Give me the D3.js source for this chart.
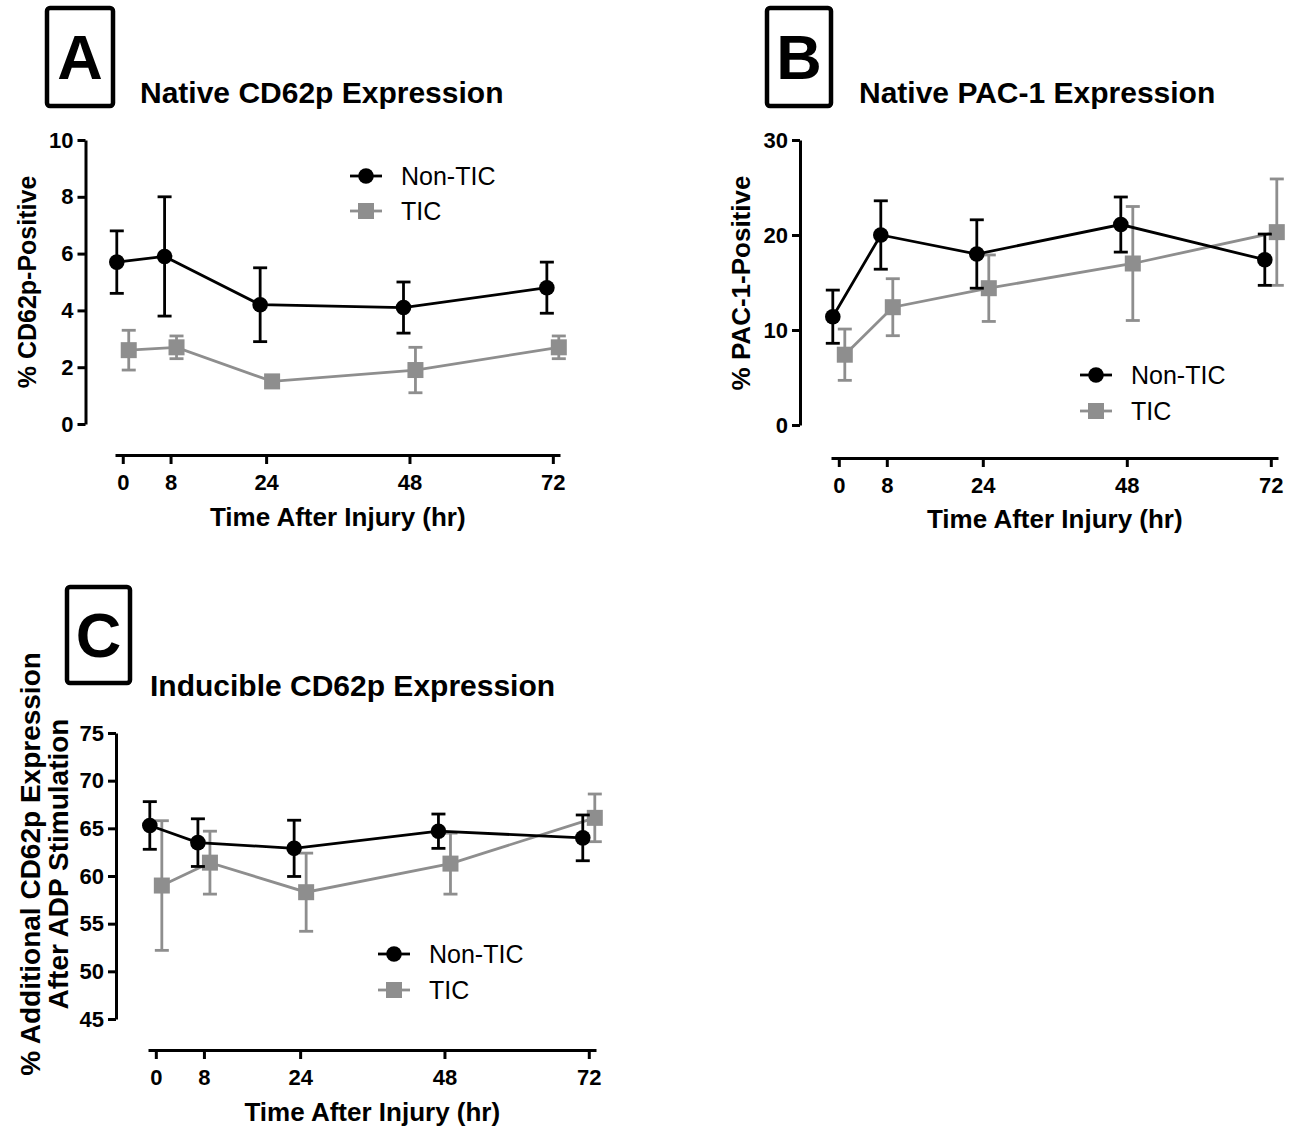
<!DOCTYPE html>
<html>
<head>
<meta charset="utf-8">
<script src="https://cdn.jsdelivr.net/npm/d3@7"></script>
<style>
  html, body { margin: 0; padding: 0; background: #fff; }
  svg { display: block; font-family: "Liberation Sans", Arial, Helvetica, sans-serif; }
</style>
</head>
<body>
<svg id="chart" width="1298" height="1126"></svg>
<script>
// ---------------- DATA ----------------
const hours = [0, 8, 24, 48, 72];
const xTickLabels = ["0", "8", "24", "48", "72"];
const seriesNames = ["Non-TIC", "TIC"];
const xAxisTitle = "Time After Injury (hr)";

// Panel A: Native CD62p Expression
const aNonTicMean = [5.7, 5.9, 4.2, 4.1, 4.8];
const aNonTicErr  = [1.1, 2.1, 1.3, 0.9, 0.9];
const aTicMean    = [2.6, 2.7, 1.5, 1.9, 2.7];
const aTicErr     = [0.7, 0.4, 0.2, 0.8, 0.4];
const aYTicks     = [0, 2, 4, 6, 8, 10];

// Panel B: Native PAC-1 Expression
const bNonTicMean = [11.4, 20.0, 18.0, 21.1, 17.4];
const bNonTicErr  = [2.8, 3.6, 3.6, 2.9, 2.7];
const bTicMean    = [7.4, 12.4, 14.4, 17.0, 20.3];
const bTicErr     = [2.7, 3.0, 3.5, 6.0, 5.6];
const bYTicks     = [0, 10, 20, 30];

// Panel C: Inducible CD62p Expression
const cNonTicMean = [65.3, 63.5, 62.9, 64.7, 64.0];
const cNonTicErr  = [2.5, 2.5, 2.95, 1.8, 2.4];
const cTicMean    = [59.0, 61.4, 58.3, 61.3, 66.1];
const cTicErr     = [6.8, 3.3, 4.1, 3.2, 2.5];
const cYTicks     = [45, 50, 55, 60, 65, 70, 75];

// ---------------- STYLE ----------------
const BLACK = "#000";
const GRAY = "#8e8e8e";
const NUDGE = 1.0; // horizontal offset (hr) between the two groups

const svg = d3.select("#chart");

function panel(cfg) {
  const g = svg.append("g");

  // label box
  g.append("rect")
    .attr("x", cfg.box[0]).attr("y", cfg.box[1])
    .attr("width", cfg.box[2]).attr("height", cfg.box[3])
    .attr("rx", 3).attr("fill", "none")
    .attr("stroke", "#000").attr("stroke-width", 4.5);
  g.append("text")
    .attr("x", cfg.box[0] + cfg.box[2] / 2)
    .attr("y", cfg.letterY)
    .attr("text-anchor", "middle")
    .attr("font-size", 63).attr("font-weight", "bold")
    .text(cfg.letter);

  // title
  g.append("text")
    .attr("x", cfg.titleX).attr("y", cfg.titleY)
    .attr("font-size", 30).attr("font-weight", "bold")
    .text(cfg.title);

  const x = d3.scaleLinear().domain([-1.3, 73.2]).range(cfg.xRange);
  const y = d3.scaleLinear().domain(cfg.yDomain).range(cfg.yRange);

  // y axis
  const yAx = g.append("g")
    .attr("transform", `translate(${cfg.yAxisX},0)`)
    .call(d3.axisLeft(y).tickValues(cfg.yTicks).tickSize(8).tickSizeOuter(0).tickPadding(4));
  yAx.select(".domain").attr("stroke-width", 3);
  yAx.selectAll(".tick line").attr("stroke-width", 3);
  yAx.selectAll(".tick text").attr("font-size", 22).attr("font-weight", "bold")
     .attr("font-family", "Liberation Sans, Arial, sans-serif").attr("fill", "#000");

  // x axis
  const xAx = g.append("g")
    .attr("transform", `translate(0,${cfg.xAxisY})`)
    .call(d3.axisBottom(x).tickValues(hours).tickFormat((d, i) => xTickLabels[i])
      .tickSize(9).tickSizeOuter(0).tickPadding(10));
  xAx.select(".domain").attr("stroke-width", 3);
  xAx.selectAll(".tick line").attr("stroke-width", 3);
  xAx.selectAll(".tick text").attr("font-size", 22).attr("font-weight", "bold")
     .attr("font-family", "Liberation Sans, Arial, sans-serif").attr("fill", "#000");

  // axis titles
  const xMid = (x(0) + x(72)) / 2;
  g.append("text")
    .attr("x", xMid).attr("y", cfg.xTitleY)
    .attr("text-anchor", "middle")
    .attr("font-size", 26).attr("font-weight", "bold")
    .text(xAxisTitle);

  cfg.yTitle.forEach((line, i) => {
    g.append("text")
      .attr("transform", `translate(${cfg.yTitleX[i]},${cfg.yTitleCY}) rotate(-90)`)
      .attr("text-anchor", "middle")
      .attr("dy", "0.35em")
      .attr("font-size", cfg.yTitleSize).attr("font-weight", "bold")
      .text(line);
  });

  // series
  const series = [
    { name: seriesNames[1], mean: cfg.ticMean, err: cfg.ticErr, color: GRAY, shape: "square", dx: NUDGE },
    { name: seriesNames[0], mean: cfg.nonMean, err: cfg.nonErr, color: BLACK, shape: "circle", dx: -NUDGE }
  ];

  series.forEach(s => {
    const pts = hours.map((h, i) => ({ h: h + s.dx, v: s.mean[i], e: s.err[i] }));
    const sg = g.append("g");
    // error bars
    pts.forEach(p => {
      const px = x(p.h);
      sg.append("line").attr("x1", px).attr("x2", px)
        .attr("y1", y(p.v - p.e)).attr("y2", y(p.v + p.e))
        .attr("stroke", s.color).attr("stroke-width", 2.8);
      [p.v - p.e, p.v + p.e].forEach(v => {
        sg.append("line").attr("x1", px - 7).attr("x2", px + 7)
          .attr("y1", y(v)).attr("y2", y(v))
          .attr("stroke", s.color).attr("stroke-width", 2.8);
      });
    });
    // connecting line
    sg.append("path")
      .datum(pts)
      .attr("fill", "none").attr("stroke", s.color).attr("stroke-width", 2.8)
      .attr("d", d3.line().x(p => x(p.h)).y(p => y(p.v)));
    // markers
    pts.forEach(p => {
      if (s.shape === "circle") {
        sg.append("circle").attr("cx", x(p.h)).attr("cy", y(p.v)).attr("r", 7.8).attr("fill", s.color);
      } else {
        sg.append("rect").attr("x", x(p.h) - 8).attr("y", y(p.v) - 8)
          .attr("width", 16).attr("height", 16).attr("fill", s.color);
      }
    });
  });

  // legend
  const leg = [
    { name: seriesNames[0], color: BLACK, shape: "circle", y: cfg.legY[0] },
    { name: seriesNames[1], color: GRAY, shape: "square", y: cfg.legY[1] }
  ];
  leg.forEach(l => {
    g.append("line")
      .attr("x1", cfg.legX).attr("x2", cfg.legX + 32)
      .attr("y1", l.y).attr("y2", l.y)
      .attr("stroke", l.color).attr("stroke-width", 2.8);
    const mx = cfg.legX + 16;
    if (l.shape === "circle") {
      g.append("circle").attr("cx", mx).attr("cy", l.y).attr("r", 7.8).attr("fill", l.color);
    } else {
      g.append("rect").attr("x", mx - 8).attr("y", l.y - 8).attr("width", 16).attr("height", 16).attr("fill", l.color);
    }
    g.append("text")
      .attr("x", cfg.legX + 51).attr("y", l.y)
      .attr("dy", "0.35em")
      .attr("font-size", 25)
      .text(l.name);
  });
}

panel({
  letter: "A", box: [47, 8, 66, 98], letterY: 79,
  title: "Native CD62p Expression", titleX: 140, titleY: 103,
  xRange: [115, 560], yDomain: [0, 10], yRange: [424, 140], yTicks: aYTicks,
  yAxisX: 85.5, xAxisY: 455, xTitleY: 526,
  yTitle: ["% CD62p-Positive"], yTitleX: [27], yTitleCY: 282, yTitleSize: 25,
  nonMean: aNonTicMean, nonErr: aNonTicErr, ticMean: aTicMean, ticErr: aTicErr,
  legX: 350, legY: [176, 211]
});

panel({
  letter: "B", box: [767, 8, 64, 98], letterY: 79,
  title: "Native PAC-1 Expression", titleX: 859, titleY: 103,
  xRange: [831, 1278], yDomain: [0, 30], yRange: [425, 140], yTicks: bYTicks,
  yAxisX: 800, xAxisY: 458, xTitleY: 528,
  yTitle: ["% PAC-1-Positive"], yTitleX: [741], yTitleCY: 283, yTitleSize: 26,
  nonMean: bNonTicMean, nonErr: bNonTicErr, ticMean: bTicMean, ticErr: bTicErr,
  legX: 1080, legY: [375, 411]
});

panel({
  letter: "C", box: [67, 587, 63, 96], letterY: 657,
  title: "Inducible CD62p Expression", titleX: 150, titleY: 696,
  xRange: [148, 596], yDomain: [45, 75], yRange: [1019, 733], yTicks: cYTicks,
  yAxisX: 116, xAxisY: 1050, xTitleY: 1121,
  yTitle: ["% Additional CD62p Expression", "After ADP Stimulation"], yTitleX: [30, 58], yTitleCY: 864, yTitleSize: 28,
  nonMean: cNonTicMean, nonErr: cNonTicErr, ticMean: cTicMean, ticErr: cTicErr,
  legX: 378, legY: [954, 990]
});
</script>
</body>
</html>
